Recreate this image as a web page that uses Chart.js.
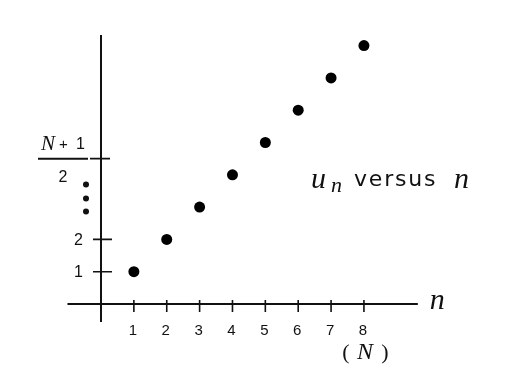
<!DOCTYPE html>
<html>
<head>
<meta charset="utf-8">
<script src="https://cdn.jsdelivr.net/npm/chart.js@4/dist/chart.umd.min.js"></script>
<style>
html,body{margin:0;padding:0;background:#fff;}
canvas{display:block;}
</style>
</head>
<body>
<canvas id="c" width="524" height="385"></canvas>
<script>
// ---- data ----
const nValues = [1, 2, 3, 4, 5, 6, 7, 8];
const uValues = [1, 2, 3, 4, 5, 6, 7, 8];
const xTickLabels = ['1', '2', '3', '4', '5', '6', '7', '8'];
const yTickValues = [1, 2];
const yTickLabels = ['1', '2'];
const N = 8;
const halfValue = (N + 1) / 2;
const titleText = 'versus';

const ink = '#111';

const axesPlugin = {
  id: 'handAxes',
  beforeDatasetsDraw(chart) {
    const ctx = chart.ctx;
    const xs = chart.scales.x, ys = chart.scales.y;
    const x0 = xs.getPixelForValue(0), y0 = ys.getPixelForValue(0);
    ctx.save();
    ctx.strokeStyle = ink;
    ctx.fillStyle = ink;
    ctx.lineCap = 'butt';
    // axes
    ctx.lineWidth = 2;
    ctx.beginPath();
    ctx.moveTo(xs.getPixelForValue(-1.02), y0);
    ctx.lineTo(xs.getPixelForValue(9.64), y0);
    ctx.moveTo(x0, ys.getPixelForValue(8.33));
    ctx.lineTo(x0, ys.getPixelForValue(-0.56));
    ctx.stroke();
    // x ticks
    ctx.lineWidth = 1.6;
    ctx.beginPath();
    nValues.forEach(v => {
      const px = xs.getPixelForValue(v);
      ctx.moveTo(px, y0 - 4);
      ctx.lineTo(px, y0 + 8);
    });
    ctx.stroke();
    ctx.font = '15px "Liberation Sans", Arial, sans-serif';
    ctx.textAlign = 'center';
    ctx.textBaseline = 'middle';
    xTickLabels.forEach((t, i) => {
      ctx.fillText(t, xs.getPixelForValue(nValues[i]) - 1, y0 + 27);
    });
    // y ticks
    ctx.lineWidth = 1.6;
    ctx.beginPath();
    yTickValues.forEach(v => {
      const py = ys.getPixelForValue(v);
      ctx.moveTo(x0 - 8, py);
      ctx.lineTo(x0 + 11, py);
    });
    const ph = ys.getPixelForValue(halfValue);
    ctx.moveTo(x0 - 11, ph);
    ctx.lineTo(x0 + 9, ph);
    ctx.stroke();
    ctx.font = '16px "Liberation Sans", Arial, sans-serif';
    ctx.textAlign = 'right';
    yTickLabels.forEach((t, i) => {
      ctx.fillText(t, x0 - 18, ys.getPixelForValue(yTickValues[i]) + 1);
    });
    // fraction (N+1)/2
    ctx.lineWidth = 2;
    ctx.beginPath();
    ctx.moveTo(x0 - 63, ph);
    ctx.lineTo(x0 - 13, ph);
    ctx.stroke();
    ctx.textAlign = 'left';
    ctx.font = 'italic 21px "Liberation Serif", "Times New Roman", serif';
    ctx.fillText('N', x0 - 60, ph - 14);
    ctx.font = '15px "Liberation Sans", Arial, sans-serif';
    ctx.fillText('+', x0 - 42, ph - 14);
    ctx.font = '16px "Liberation Sans", Arial, sans-serif';
    ctx.fillText('1', x0 - 25, ph - 14);
    ctx.textAlign = 'center';
    ctx.fillText('2', x0 - 38, ph + 19);
    // vertical dots
    const dotVals = [3.7, 3.27, 2.86];
    dotVals.forEach(v => {
      ctx.beginPath();
      ctx.arc(x0 - 15, ys.getPixelForValue(v), 3, 0, Math.PI * 2);
      ctx.fill();
    });
    // axis name n
    ctx.textAlign = 'left';
    ctx.font = 'italic 30px "Liberation Serif", "Times New Roman", serif';
    ctx.fillText('n', xs.getPixelForValue(10.0), y0 - 3);
    // (N)
    const p8 = xs.getPixelForValue(N);
    ctx.textAlign = 'center';
    ctx.font = '22px "Liberation Serif", "Times New Roman", serif';
    ctx.fillText('(', p8 - 18, y0 + 49);
    ctx.fillText(')', p8 + 21, y0 + 49);
    ctx.font = 'italic 24px "Liberation Serif", "Times New Roman", serif';
    ctx.fillText('N', p8 + 1, y0 + 49);
    // title u_n versus n
    const ty = ys.getPixelForValue(3.85);
    ctx.textAlign = 'left';
    ctx.font = 'italic 30px "Liberation Serif", "Times New Roman", serif';
    ctx.fillText('u', 311, ty);
    ctx.font = 'italic 22px "Liberation Serif", "Times New Roman", serif';
    ctx.fillText('n', 331, ty + 7);
    ctx.font = '22px "DejaVu Sans", sans-serif';
    ctx.letterSpacing = '1.8px';
    ctx.fillText(titleText, 354, ty + 1);
    ctx.letterSpacing = '0px';
    ctx.font = 'italic 30px "Liberation Serif", "Times New Roman", serif';
    ctx.fillText('n', 454, ty);
    ctx.restore();
  }
};

new Chart(document.getElementById('c'), {
  type: 'scatter',
  data: {
    datasets: [{
      data: nValues.map((n, i) => ({ x: n, y: uValues[i] })),
      pointRadius: 5.5,
      pointHoverRadius: 5.5,
      backgroundColor: '#000',
      borderColor: '#000',
      borderWidth: 0
    }]
  },
  options: {
    responsive: false,
    devicePixelRatio: 1,
    animation: false,
    layout: { padding: { left: 68.14, right: 77.9, top: 13.3, bottom: 48.7 } },
    scales: {
      x: { type: 'linear', min: -1, max: 10.5, display: false },
      y: { type: 'linear', min: -1, max: 9, display: false }
    },
    plugins: { legend: { display: false }, tooltip: { enabled: false } }
  },
  plugins: [axesPlugin]
});
</script>
</body>
</html>
